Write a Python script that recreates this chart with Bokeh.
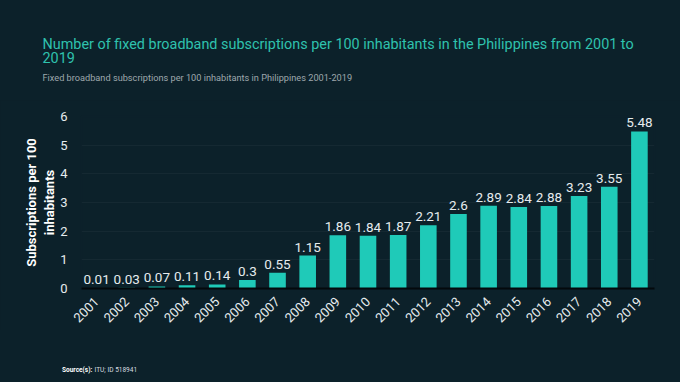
from math import pi
from bokeh.plotting import figure
from bokeh.models import ColumnDataSource, Range1d, LabelSet, Label
from bokeh.core.properties import value
from bokeh.embed import file_html
from bokeh.resources import INLINE

years = ["2001", "2002", "2003", "2004", "2005", "2006", "2007", "2008", "2009", "2010",
         "2011", "2012", "2013", "2014", "2015", "2016", "2017", "2018", "2019"]
values = [0.01, 0.03, 0.07, 0.11, 0.14, 0.3, 0.55, 1.15, 1.86, 1.84,
          1.87, 2.21, 2.6, 2.89, 2.84, 2.88, 3.23, 3.55, 5.48]
value_labels = ["0.01", "0.03", "0.07", "0.11", "0.14", "0.3", "0.55", "1.15", "1.86", "1.84",
                "1.87", "2.21", "2.6", "2.89", "2.84", "2.88", "3.23", "3.55", "5.48"]
y_ticks = [0, 1, 2, 3, 4, 5, 6]

title_text = "Number of fixed broadband subscriptions per 100 inhabitants in the Philippines from 2001 to"
title_text2 = "2019"
subtitle_text = "Fixed broadband subscriptions per 100 inhabitants in Philippines 2001-2019"

BG = "#0c212a"
BAR = "#1fcab8"
TITLE_C = "#2fc2ae"
SUB_C = "#9ea8ac"
TXT = "#e6ecee"
FONT = "Roboto"
W = 680
HEAD_H, MAIN_H, FOOT_H = 100, 230, 52


def text_panel(h):
    f = figure(width=W, height=h, x_range=Range1d(0, W), y_range=Range1d(h, 0),
               x_axis_type=None, y_axis_type=None, output_backend="svg",
               toolbar_location=None, min_border=0)
    f.background_fill_color = BG
    f.border_fill_color = BG
    f.outline_line_color = BG
    f.outline_line_width = 3
    return f


def add_text(f, x, y, text, color, size, style="normal"):
    f.add_layout(Label(x=x, y=y, text=text, text_color=color, text_font=FONT,
                       text_font_size=size, text_font_style=style,
                       text_baseline="middle", text_align="left"))


# header
head = text_panel(HEAD_H)
add_text(head, 42, 43.5, title_text, TITLE_C, "14.4px")
add_text(head, 42, 56.5, title_text2, TITLE_C, "14.4px")
add_text(head, 42, 76.5, subtitle_text, SUB_C, "9.2px")

# main chart
src = ColumnDataSource(dict(year=years, value=values, label=value_labels))
p = figure(width=W, height=MAIN_H, x_range=years, y_range=Range1d(0, 6),
           output_backend="svg", toolbar_location=None,
           min_border_left=81, min_border_right=26, min_border_top=16, min_border_bottom=42)
p.background_fill_color = BG
p.border_fill_color = BG
p.outline_line_color = BG
p.outline_line_width = 2

p.vbar(x="year", top="value", width=0.55, source=src, fill_color=BAR, line_color=None)

labels = LabelSet(x="year", y="value", text="label", source=src, text_align="center",
                  text_baseline="bottom", y_offset=4, text_color=TXT,
                  text_font=value(FONT), text_font_size=value("13.5px"))
p.add_layout(labels)

p.xgrid.grid_line_color = None
p.ygrid.grid_line_color = "#ffffff"
p.ygrid.grid_line_alpha = 0.04
p.ygrid.ticker = y_ticks

p.yaxis.ticker = y_ticks
p.yaxis.axis_line_color = None
p.yaxis.major_tick_line_color = None
p.yaxis.major_tick_out = 0
p.yaxis.major_tick_in = 0
p.yaxis.minor_tick_line_color = None
p.yaxis.major_label_standoff = 14
p.yaxis.major_label_text_color = TXT
p.yaxis.major_label_text_font = FONT
p.yaxis.major_label_text_font_size = "13px"
p.yaxis.axis_label = "Subscriptions per 100\ninhabitants"
p.yaxis.axis_label_text_color = "#ffffff"
p.yaxis.axis_label_text_font = FONT
p.yaxis.axis_label_text_font_style = "bold"
p.yaxis.axis_label_text_font_size = "13px"
p.yaxis.axis_label_standoff = 0

p.xaxis.axis_line_color = "#03090c"
p.xaxis.axis_line_width = 2
p.xaxis.major_tick_line_color = None
p.xaxis.major_tick_out = 0
p.xaxis.major_tick_in = 0
p.xaxis.minor_tick_line_color = None
p.xaxis.major_label_orientation = pi / 4
p.xaxis.major_label_standoff = 11
p.xaxis.major_label_text_color = TXT
p.xaxis.major_label_text_font = FONT
p.xaxis.major_label_text_font_size = "13px"

# footer
foot = text_panel(FOOT_H)
add_text(foot, 61.5, 39, "Source(s):", "#ffffff", "6.5px", "bold")
add_text(foot, 94, 39, "ITU;", "#d8dee0", "6.5px")
add_text(foot, 107, 39, "ID 518941", "#d8dee0", "6.5px")

# three independent roots stacked on the page (no frame alignment between them)
html = file_html([head, p, foot], INLINE)
style = "<style>html, body { background: %s !important; margin: 0 !important; }</style>" % BG
html = html.replace("</head>", style + "\n</head>", 1)
open("out.html", "w").write(html)
